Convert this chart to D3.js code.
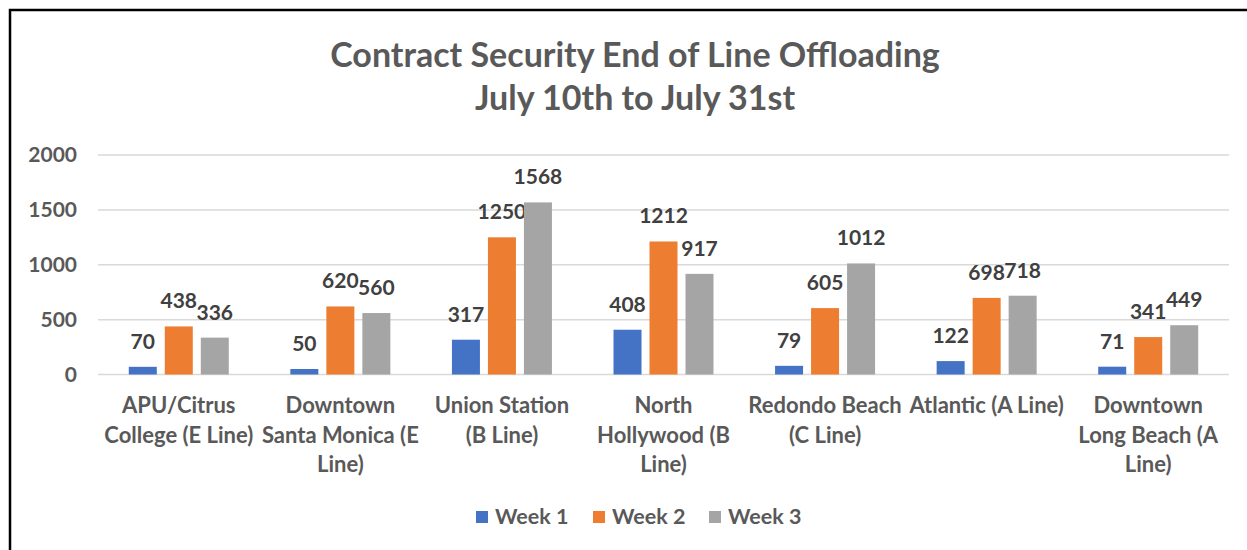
<!DOCTYPE html>
<html>
<head>
<meta charset="utf-8">
<script src="https://cdn.jsdelivr.net/npm/d3@7"></script>
<style>
  body { margin: 0; background: #fff; }
  svg { display: block; font-family: Lato, 'Open Sans', sans-serif; }
</style>
</head>
<body>
<svg id="chart" width="1247" height="550"></svg>
<script>
// chart data
const categories = [
  'APU/Citrus College (E Line)',
  'Downtown Santa Monica (E Line)',
  'Union Station (B Line)',
  'North Hollywood (B Line)',
  'Redondo Beach (C Line)',
  'Atlantic (A Line)',
  'Downtown Long Beach (A Line)'
];
// how the axis labels wrap in the original
const categoryLines = [
  ['APU/Citrus', 'College (E Line)'],
  ['Downtown', 'Santa Monica (E', 'Line)'],
  ['Union Station', '(B Line)'],
  ['North', 'Hollywood (B', 'Line)'],
  ['Redondo Beach', '(C Line)'],
  ['Atlantic (A Line)'],
  ['Downtown', 'Long Beach (A', 'Line)']
];
const seriesNames = ['Week 1', 'Week 2', 'Week 3'];
const week1 = [70, 50, 317, 408, 79, 122, 71];
const week2 = [438, 620, 1250, 1212, 605, 698, 341];
const week3 = [336, 560, 1568, 917, 1012, 718, 449];
const yTicks = [0, 500, 1000, 1500, 2000];
const colors = ['#4472C4', '#ED7D31', '#A5A5A5'];

const series = [week1, week2, week3];
const W = 1247, H = 550;
const plot = { left: 98, right: 1229, top: 155, bottom: 374.5 };

const svg = d3.select('#chart');

// outer frame (cropped on the right / bottom in the original)
svg.append('rect')
  .attr('x', 10).attr('y', 10).attr('width', W + 10).attr('height', H + 10)
  .attr('fill', '#fff').attr('stroke', '#000').attr('stroke-width', 2.5);

// title
const title = svg.append('text')
  .attr('text-anchor', 'middle')
  .attr('fill', '#595959').attr('font-weight', 700).attr('font-size', 34);
title.append('tspan').attr('x', 635).attr('y', 67).text('Contract Security End of Line Offloading');
title.append('tspan').attr('x', 635).attr('y', 110).text('July 10th to July 31st');

const x0 = d3.scaleBand().domain(categories).range([plot.left, plot.right]);
const groupW = 100;
const x1 = d3.scaleBand().domain(seriesNames).range([0, groupW]).paddingInner(8 / 36);
const y = d3.scaleLinear().domain([0, 2000]).range([plot.bottom, plot.top]);

// grid
svg.append('g')
  .selectAll('line').data(yTicks).join('line')
  .attr('x1', plot.left).attr('x2', plot.right)
  .attr('y1', d => y(d)).attr('y2', d => y(d))
  .attr('stroke', '#d9d9d9').attr('stroke-width', 1.5);

// y axis labels
const yAxis = svg.append('g')
  .attr('transform', `translate(${plot.left - 21},0)`)
  .call(d3.axisLeft(y).tickValues(yTicks).tickFormat(d3.format('d')).tickSize(0).tickPadding(0));
yAxis.select('.domain').remove();
yAxis.selectAll('text')
  .attr('fill', '#595959').attr('font-size', 21).attr('font-weight', 700)
  .attr('font-family', 'Lato, sans-serif');

// bars
const groups = svg.append('g').selectAll('g').data(categories).join('g')
  .attr('transform', d => `translate(${x0(d) + (x0.bandwidth() - groupW) / 2},0)`);

groups.each(function(cat, i) {
  const g = d3.select(this);
  seriesNames.forEach((s, k) => {
    const v = series[k][i];
    g.append('rect')
      .attr('x', x1(s)).attr('width', x1.bandwidth())
      .attr('y', y(v)).attr('height', y(0) - y(v))
      .attr('fill', colors[k]);
    g.append('text')
      .attr('x', x1(s) + x1.bandwidth() / 2)
      .attr('y', y(v) - 18)
      .attr('text-anchor', 'middle')
      .attr('fill', '#404040').attr('font-size', 21).attr('font-weight', 700)
      .text(v);
  });
});

// category labels
const catG = svg.append('g').selectAll('text').data(categories).join('text')
  .attr('text-anchor', 'middle')
  .attr('fill', '#595959').attr('font-size', 22).attr('font-weight', 700);
catG.each(function(cat, i) {
  const t = d3.select(this);
  const cx = x0(cat) + x0.bandwidth() / 2;
  categoryLines[i].forEach((line, j) => {
    t.append('tspan').attr('x', cx).attr('y', 413 + j * 29.5).text(line);
  });
});

// legend
const legendX = [476, 593, 709];
const legend = svg.append('g').selectAll('g').data(seriesNames).join('g')
  .attr('transform', (d, i) => `translate(${legendX[i]},511)`);
legend.append('rect').attr('width', 12).attr('height', 12).attr('fill', (d, i) => colors[i]);
legend.append('text').attr('x', 19).attr('y', 13)
  .attr('fill', '#595959').attr('font-size', 21.5).attr('font-weight', 700)
  .text(d => d);
</script>
</body>
</html>
